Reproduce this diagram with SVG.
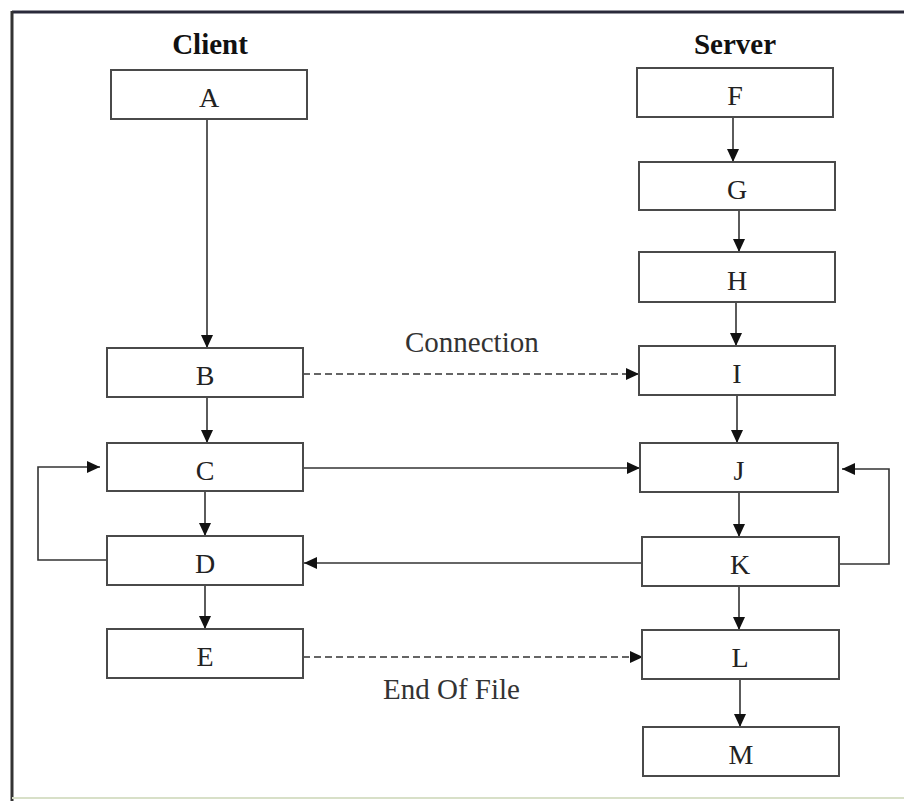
<svg xmlns="http://www.w3.org/2000/svg" width="904" height="801" viewBox="0 0 904 801">
<style>
.box{fill:#fff;stroke:#4a4a4a;stroke-width:2}
.lbl{font-family:"Liberation Serif","Times New Roman",serif;font-size:28px;fill:#222;text-anchor:middle}
.title{font-family:"Liberation Serif","Times New Roman",serif;font-size:29px;font-weight:bold;fill:#111;text-anchor:middle}
.cap{font-family:"Liberation Serif","Times New Roman",serif;font-size:29px;fill:#333}
.ln{fill:none;stroke:#333;stroke-width:1.6}
.dash{stroke-dasharray:7,4}
</style>
<defs>
<marker id="ah" markerUnits="userSpaceOnUse" markerWidth="14" markerHeight="12" refX="13" refY="6" orient="auto">
<path d="M0,0 L13,6 L0,12 Z" fill="#111"/>
</marker>
</defs>
<rect x="0" y="0" width="904" height="801" fill="#fff"/>
<g id="frame">
<line x1="12" y1="12" x2="904" y2="12" stroke="#2a2a3a" stroke-width="3"/>
<line x1="12" y1="11" x2="12" y2="801" stroke="#333" stroke-width="3"/>
<line x1="12" y1="798" x2="904" y2="798" stroke="#d8e0c8" stroke-width="2"/>
</g>
<g id="titles">
<text class="title" x="210" y="54">Client</text>
<text class="title" x="735" y="54">Server</text>
</g>
<g id="connectors">
<line class="ln" x1="207" y1="119" x2="207" y2="348" marker-end="url(#ah)"/>
<line class="ln" x1="207" y1="397" x2="207" y2="443" marker-end="url(#ah)"/>
<line class="ln" x1="205" y1="491" x2="205" y2="536" marker-end="url(#ah)"/>
<line class="ln" x1="205" y1="585" x2="205" y2="629" marker-end="url(#ah)"/>
<path class="ln" d="M107,560 H38 V467 H100" marker-end="url(#ah)"/>
<line class="ln dash" x1="303" y1="374" x2="639" y2="374" marker-end="url(#ah)"/>
<line class="ln" x1="303" y1="468" x2="640" y2="468" marker-end="url(#ah)"/>
<line class="ln" x1="642" y1="563" x2="304" y2="563" marker-end="url(#ah)"/>
<line class="ln dash" x1="303" y1="657" x2="643" y2="657" marker-end="url(#ah)"/>
<line class="ln" x1="733" y1="117" x2="733" y2="162" marker-end="url(#ah)"/>
<line class="ln" x1="739" y1="210" x2="739" y2="252" marker-end="url(#ah)"/>
<line class="ln" x1="736" y1="302" x2="736" y2="346" marker-end="url(#ah)"/>
<line class="ln" x1="737" y1="395" x2="737" y2="443" marker-end="url(#ah)"/>
<line class="ln" x1="739" y1="492" x2="739" y2="537" marker-end="url(#ah)"/>
<line class="ln" x1="739" y1="586" x2="739" y2="630" marker-end="url(#ah)"/>
<line class="ln" x1="740" y1="679" x2="740" y2="727" marker-end="url(#ah)"/>
<path class="ln" d="M839,564 H889 V469 H842" marker-end="url(#ah)"/>
<text class="cap" x="405" y="352">Connection</text>
<text class="cap" x="383" y="699">End Of File</text>
</g>
<g id="nA"><rect class="box" x="111" y="70" width="196" height="49"/><text class="lbl" x="209" y="107">A</text></g>
<g id="nB"><rect class="box" x="107" y="348" width="196" height="49"/><text class="lbl" x="205" y="385">B</text></g>
<g id="nC"><rect class="box" x="107" y="443" width="196" height="48"/><text class="lbl" x="205" y="480">C</text></g>
<g id="nD"><rect class="box" x="107" y="536" width="196" height="49"/><text class="lbl" x="205" y="573">D</text></g>
<g id="nE"><rect class="box" x="107" y="629" width="196" height="49"/><text class="lbl" x="205" y="666">E</text></g>
<g id="nF"><rect class="box" x="637" y="68" width="196" height="49"/><text class="lbl" x="735" y="105">F</text></g>
<g id="nG"><rect class="box" x="639" y="162" width="196" height="48"/><text class="lbl" x="737" y="199">G</text></g>
<g id="nH"><rect class="box" x="639" y="252" width="196" height="50"/><text class="lbl" x="737" y="290">H</text></g>
<g id="nI"><rect class="box" x="639" y="346" width="196" height="49"/><text class="lbl" x="737" y="383">I</text></g>
<g id="nJ"><rect class="box" x="640" y="443" width="198" height="49"/><text class="lbl" x="739" y="480">J</text></g>
<g id="nK"><rect class="box" x="642" y="537" width="197" height="49"/><text class="lbl" x="740" y="574">K</text></g>
<g id="nL"><rect class="box" x="642" y="630" width="197" height="49"/><text class="lbl" x="740" y="667">L</text></g>
<g id="nM"><rect class="box" x="643" y="727" width="196" height="49"/><text class="lbl" x="741" y="764">M</text></g>
</svg>
